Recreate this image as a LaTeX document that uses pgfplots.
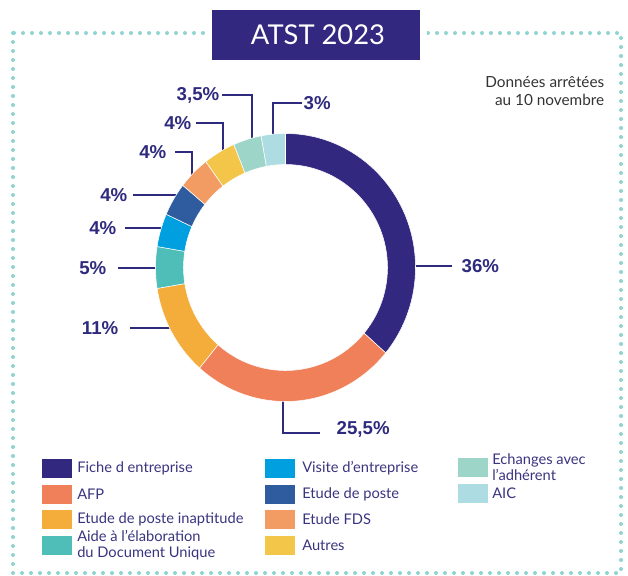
\documentclass[border=0pt]{standalone}
\usepackage{fontspec}
\setmainfont{Lato}
\newfontfamily\pctfont{Liberation Sans}
\usepackage{pgfplots}
\pgfplotsset{compat=1.18}
\usepackage{pgfplotstable}
\usetikzlibrary{calc}

\definecolor{cFiche}{RGB}{50,40,128}
\definecolor{cAFP}{RGB}{240,128,90}
\definecolor{cInapt}{RGB}{244,172,59}
\definecolor{cDU}{RGB}{79,189,184}
\definecolor{cVisite}{RGB}{0,160,224}
\definecolor{cPoste}{RGB}{46,92,158}
\definecolor{cFDS}{RGB}{242,156,100}
\definecolor{cAutres}{RGB}{243,198,74}
\definecolor{cEchanges}{RGB}{157,214,201}
\definecolor{cAIC}{RGB}{173,220,227}
\definecolor{navytxt}{RGB}{46,42,126}
\definecolor{legtxt}{RGB}{58,52,128}
\definecolor{dotc}{RGB}{142,212,208}
\definecolor{notetxt}{RGB}{51,51,51}

% share of each activity, clockwise from the top
\pgfplotstableread{
name value col
Fiche 36 cFiche
AFP 25.5 cAFP
Inaptitude 11 cInapt
DU 5 cDU
Visite 4 cVisite
Poste 4 cPoste
FDS 4 cFDS
Autres 4 cAutres
Echanges 3.5 cEchanges
AIC 3 cAIC
}\donutdata

\begin{document}
\begin{tikzpicture}
\begin{axis}[
    width=471pt, height=431.25pt, scale only axis,
    xmin=0, xmax=628, ymin=0, ymax=575,
    hide axis, clip=false,
  ]
  \path (axis cs:0,0) rectangle (axis cs:628,575);

  %% dotted frame and title
  \draw[dotc, line width=3pt, line cap=round, dash pattern=on 0pt off 6.75pt]
      (axis cs:13,542) rectangle (axis cs:621,2);
  \fill[white] (axis cs:205,570) rectangle (axis cs:427,510);
  \fill[cFiche] (axis cs:212,565) rectangle (axis cs:420,515);
  \node[white, font=\fontsize{20.5}{22}\selectfont] at (axis cs:318,540) {ATST 2023};

  \node[anchor=north east, align=right, notetxt,
        font=\fontsize{11.5}{13.5}\selectfont] at (axis cs:609,503)
      {Données arrêtées\\au 10 novembre};

  %% leader lines
  \begin{scope}[navytxt, line width=1.1pt]
    \draw (axis cs:400,309) -- (axis cs:452,309);
    \draw (axis cs:283,190) -- (axis cs:283,142) -- (axis cs:320,142);
    \draw (axis cs:130,247) -- (axis cs:185,247);
    \draw (axis cs:118,307) -- (axis cs:170,307);
    \draw (axis cs:125,347) -- (axis cs:175,347);
    \draw (axis cs:133,380) -- (axis cs:190,380);
    \draw (axis cs:175,423) -- (axis cs:192,423) -- (axis cs:192,390);
    \draw (axis cs:196,452) -- (axis cs:223,452) -- (axis cs:223,415);
    \draw (axis cs:222,480) -- (axis cs:252,480) -- (axis cs:252,425);
    \draw (axis cs:273,425) -- (axis cs:273,472) -- (axis cs:302,472);
  \end{scope}

  %% donut ring
  \def\cum{0}
  \pgfplotsforeachungrouped \i in {0,...,9} {
    \pgfplotstablegetelem{\i}{value}\of\donutdata
    \let\v\pgfplotsretval
    \pgfplotstablegetelem{\i}{col}\of\donutdata
    \let\c\pgfplotsretval
    \pgfmathsetmacro{\aA}{90-3.6*\cum}
    \pgfmathsetmacro{\cum}{\cum+\v}
    \pgfmathsetmacro{\aB}{90-3.6*\cum}
    \edef\temp{\noexpand\fill[\c, draw=white, line width=0.4pt]
      (\noexpand$(axis cs:285.5,307.5)+(\aA:97.5pt and 100.5pt)\noexpand$)
      arc[start angle=\aA, end angle=\aB, x radius=97.5pt, y radius=100.5pt]
      -- (\noexpand$(axis cs:285.5,307.5)+(\aB:76.5pt and 77.25pt)\noexpand$)
      arc[start angle=\aB, end angle=\aA, x radius=76.5pt, y radius=77.25pt]
      -- cycle;}
    \temp
  }

  %% percentage labels
  \begin{scope}[navytxt, font=\pctfont\bfseries\fontsize{14}{16}\selectfont]
    \node[anchor=west] at (axis cs:457,309) {36\%};
    \node[anchor=west] at (axis cs:332,146) {25,5\%};
    \node[anchor=east] at (axis cs:123,247) {11\%};
    \node[anchor=east] at (axis cs:111,307) {5\%};
    \node[anchor=east] at (axis cs:121,347) {4\%};
    \node[anchor=east] at (axis cs:132,380) {4\%};
    \node[anchor=east] at (axis cs:171,423) {4\%};
    \node[anchor=east] at (axis cs:196,452) {4\%};
    \node[anchor=east] at (axis cs:224,480) {3,5\%};
    \node[anchor=west] at (axis cs:299,472) {3\%};
  \end{scope}

  %% legend
  \fill[cFiche]    (axis cs:42,97.5) rectangle (axis cs:72,116.5);
  \fill[cAFP]      (axis cs:42,71.5) rectangle (axis cs:72,90.5);
  \fill[cInapt]    (axis cs:42,46.5) rectangle (axis cs:72,65.5);
  \fill[cDU]       (axis cs:42,20.5) rectangle (axis cs:72,39.5);
  \fill[cVisite]   (axis cs:265,97.5) rectangle (axis cs:295,116.5);
  \fill[cPoste]    (axis cs:265,71.5) rectangle (axis cs:295,90.5);
  \fill[cFDS]      (axis cs:265,46.5) rectangle (axis cs:295,65.5);
  \fill[cAutres]   (axis cs:265,20.5) rectangle (axis cs:295,39.5);
  \fill[cEchanges] (axis cs:458,98.5) rectangle (axis cs:488,117.5);
  \fill[cAIC]      (axis cs:458,72.5) rectangle (axis cs:488,91.5);
  \begin{scope}[legtxt, font=\fontsize{11}{12}\selectfont]
    \node[anchor=west, inner sep=0pt] at (axis cs:77,107) {Fiche d entreprise};
    \node[anchor=west, inner sep=0pt] at (axis cs:77,81) {AFP};
    \node[anchor=west, inner sep=0pt] at (axis cs:77,56) {Etude de poste inaptitude};
    \node[anchor=west, inner sep=0pt, align=left] at (axis cs:77,30)
        {Aide à l'élaboration\\du Document Unique};
    \node[anchor=west, inner sep=0pt] at (axis cs:302,107) {Visite d'entreprise};
    \node[anchor=west, inner sep=0pt] at (axis cs:302,81) {Etude de poste};
    \node[anchor=west, inner sep=0pt] at (axis cs:302,56) {Etude FDS};
    \node[anchor=west, inner sep=0pt] at (axis cs:302,30) {Autres};
    \node[anchor=west, inner sep=0pt, align=left] at (axis cs:492,108)
        {Echanges avec\\l'adhérent};
    \node[anchor=west, inner sep=0pt] at (axis cs:492,82) {AIC};
  \end{scope}
\end{axis}
\end{tikzpicture}
\end{document}
